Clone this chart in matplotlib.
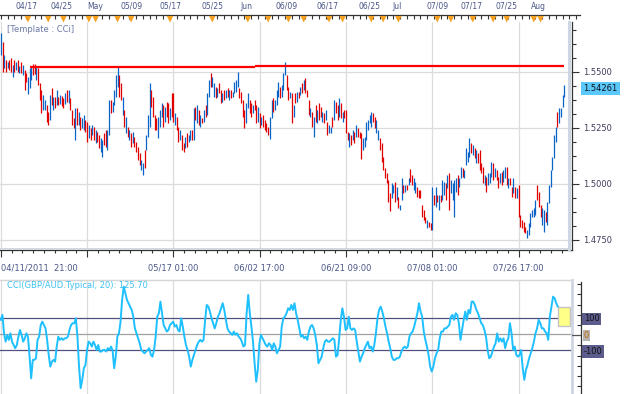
import numpy as np
import matplotlib
matplotlib.use("Agg")
import matplotlib.pyplot as plt
from matplotlib.patches import Rectangle
import matplotlib.transforms as mtransforms
from matplotlib.ticker import MultipleLocator, FixedLocator

# ---------------- data ----------------
highs = [
 1.5674,1.5634,1.5576,1.5554,1.5545,1.5554,1.5563,1.5531,1.5554,1.5545,1.5554,1.5527,1.5545,1.5531,1.5509,1.5496,1.5478,1.5518,1.5527,1.5536,
 1.5536,1.5527,1.5518,1.5451,1.5420,1.5397,1.5375,1.5353,1.5321,1.5397,1.5429,1.5388,1.5388,1.5420,1.5388,1.5397,1.5393,1.5384,1.5406,1.5420,
 1.5420,1.5384,1.5330,1.5295,1.5339,1.5339,1.5321,1.5299,1.5295,1.5308,1.5286,1.5277,1.5263,1.5250,1.5263,
 1.5254,1.5241,1.5232,1.5219,1.5205,1.5196,1.5228,1.5241,1.5241,1.5375,1.5375,1.5366,1.5420,1.5487,1.5522,1.5487,1.5451,1.5388,1.5330,1.5299,
 1.5254,1.5241,1.5228,1.5232,1.5210,1.5187,1.5165,1.5138,1.5107,1.5094,1.5152,1.5219,1.5308,1.5451,1.5420,1.5388,1.5308,1.5295,1.5299,1.5330,
 1.5362,1.5353,1.5344,1.5366,1.5362,1.5339,1.5406,1.5406,1.5317,1.5299,1.5254,1.5241,1.5219,1.5183,1.5210,1.5228,1.5219,1.5241,
 1.5241,1.5339,1.5344,1.5353,1.5330,1.5308,1.5295,1.5330,1.5353,1.5406,1.5464,1.5496,1.5478,1.5451,1.5433,1.5429,1.5451,1.5420,1.5406,1.5420,
 1.5420,1.5429,1.5420,1.5420,1.5411,1.5455,1.5464,1.5500,1.5429,1.5411,1.5375,1.5330,1.5362,1.5406,1.5375,1.5362,1.5353,1.5375,1.5353,1.5344,
 1.5317,1.5299,1.5308,1.5286,1.5272,1.5254,1.5299,1.5375,1.5384,1.5375,1.5420,1.5455,1.5433,1.5442,1.5496,1.5545,
 1.5487,1.5433,1.5411,1.5406,1.5353,1.5406,1.5411,1.5411,1.5433,1.5451,1.5464,1.5473,1.5420,1.5375,1.5339,1.5321,1.5299,1.5353,1.5330,1.5362,
 1.5344,1.5321,1.5317,1.5330,1.5277,1.5263,1.5254,1.5299,1.5375,1.5366,1.5353,1.5384,1.5362,1.5321,1.5330,1.5330,1.5232,1.5228,1.5219,1.5241,
 1.5232,1.5263,1.5250,1.5232,1.5228,1.5205,1.5210,1.5277,1.5286,1.5308,1.5321,1.5317,1.5299,1.5286,1.5241,1.5205,1.5183,
 1.5120,1.5071,1.5049,1.5018,1.4960,1.5004,1.4996,1.5009,1.4987,1.4942,1.4906,1.5027,1.4996,1.4996,1.4996,1.5027,1.5067,1.5040,1.5027,1.5009,
 1.4987,1.4973,1.4973,1.4906,1.4884,1.4853,1.4839,1.4830,1.4826,1.4987,1.4951,1.4987,1.4951,1.4951,1.4951,1.5018,1.5009,1.5004,1.5040,1.5049,
 1.5018,1.5004,1.5018,1.5027,1.5040,1.5027,1.5076,1.5071,1.5062,1.5161,1.5143,1.5205,1.5183,1.5174,1.5161,1.5152,1.5138,
 1.5152,1.5094,1.5076,1.5040,1.5031,1.5049,1.5049,1.5098,1.5094,1.5071,1.5062,1.5031,1.5049,1.5054,1.5062,1.5076,1.5076,1.5027,1.5027,1.4987,
 1.5027,1.4987,1.4982,1.4996,1.4862,1.4839,1.4830,1.4808,1.4795,1.4826,1.4871,1.4884,1.4893,1.4929,1.4996,1.4964,1.4906,1.4893,1.4884,1.4875,
 1.4920,1.4996,1.5062,1.5120,1.5219,1.5254,1.5321,1.5339,1.5339,1.5397,1.5442]
lows = [
 1.5576,1.5500,1.5518,1.5500,1.5518,1.5509,1.5500,1.5478,1.5500,1.5509,1.5500,1.5496,1.5496,1.5487,1.5420,1.5455,1.5402,1.5429,1.5464,1.5487,
 1.5491,1.5464,1.5442,1.5375,1.5317,1.5330,1.5330,1.5277,1.5263,1.5286,1.5353,1.5330,1.5339,1.5353,1.5353,1.5357,1.5348,1.5339,1.5357,1.5366,
 1.5362,1.5330,1.5263,1.5250,1.5196,1.5263,1.5263,1.5241,1.5250,1.5241,1.5232,1.5187,1.5205,1.5196,1.5219,
 1.5196,1.5183,1.5187,1.5161,1.5143,1.5120,1.5174,1.5165,1.5152,1.5219,1.5317,1.5321,1.5353,1.5388,1.5433,1.5388,1.5375,1.5308,1.5254,1.5228,
 1.5210,1.5196,1.5165,1.5183,1.5165,1.5143,1.5107,1.5085,1.5062,1.5040,1.5071,1.5152,1.5210,1.5254,1.5344,1.5299,1.5241,1.5241,1.5205,1.5254,
 1.5299,1.5254,1.5277,1.5299,1.5272,1.5286,1.5299,1.5277,1.5263,1.5241,1.5187,1.5196,1.5152,1.5143,1.5161,1.5165,1.5187,1.5196,
 1.5196,1.5196,1.5286,1.5272,1.5263,1.5254,1.5272,1.5277,1.5299,1.5308,1.5388,1.5433,1.5433,1.5388,1.5384,1.5388,1.5406,1.5362,1.5366,1.5375,
 1.5384,1.5388,1.5375,1.5384,1.5388,1.5406,1.5411,1.5433,1.5384,1.5362,1.5299,1.5250,1.5272,1.5339,1.5317,1.5299,1.5317,1.5330,1.5272,1.5277,
 1.5250,1.5263,1.5254,1.5241,1.5232,1.5219,1.5201,1.5295,1.5321,1.5330,1.5353,1.5388,1.5384,1.5388,1.5420,1.5487,
 1.5420,1.5375,1.5384,1.5272,1.5299,1.5362,1.5366,1.5384,1.5397,1.5406,1.5420,1.5406,1.5388,1.5308,1.5299,1.5254,1.5210,1.5277,1.5272,1.5286,
 1.5299,1.5277,1.5272,1.5286,1.5219,1.5228,1.5228,1.5254,1.5286,1.5317,1.5286,1.5299,1.5295,1.5277,1.5295,1.5228,1.5196,1.5165,1.5174,1.5196,
 1.5183,1.5210,1.5210,1.5205,1.5111,1.5152,1.5165,1.5196,1.5241,1.5272,1.5254,1.5277,1.5250,1.5228,1.5196,1.5152,1.5098,
 1.5062,1.5027,1.5004,1.4920,1.4880,1.4938,1.4960,1.4920,1.4929,1.4893,1.4884,1.4929,1.4960,1.4964,1.4973,1.4996,1.5009,1.4996,1.4973,1.4960,
 1.4942,1.4938,1.4938,1.4853,1.4839,1.4826,1.4804,1.4808,1.4795,1.4795,1.4906,1.4897,1.4920,1.4884,1.4920,1.4929,1.4951,1.4929,1.4982,1.4884,
 1.4960,1.4929,1.4853,1.4964,1.4951,1.4987,1.5027,1.5031,1.5027,1.5085,1.5098,1.5120,1.5138,1.5129,1.5116,1.5094,1.5094,
 1.5062,1.5049,1.5004,1.4996,1.4964,1.4996,1.5004,1.5031,1.5018,1.5031,1.5018,1.4982,1.5004,1.4996,1.5009,1.5027,1.4996,1.4982,1.4996,1.4942,
 1.4960,1.4938,1.4938,1.4853,1.4808,1.4804,1.4786,1.4781,1.4759,1.4772,1.4808,1.4853,1.4853,1.4862,1.4929,1.4897,1.4853,1.4817,1.4786,1.4830,
 1.4817,1.4915,1.4987,1.5062,1.5116,1.5187,1.5254,1.5272,1.5299,1.5344,1.5388]
up = [
 1,0,1,0,1,0,0,1,0,1,0,1,0,1,0,0,1,1,1,0,
 0,1,0,0,0,1,1,0,0,1,0,1,0,1,0,1,0,0,1,0,
 1,0,0,0,1,0,1,0,1,1,0,0,1,0,1,
 0,1,0,0,1,1,0,0,1,1,0,1,1,1,1,0,0,1,0,1,
 0,1,0,1,0,0,0,0,1,1,0,1,1,1,0,0,0,0,1,1,
 1,0,1,0,0,1,0,0,1,0,0,1,0,0,1,0,1,1,
 0,1,0,1,0,1,0,1,0,1,1,0,1,1,0,1,0,0,1,0,
 1,0,1,0,1,1,1,1,0,0,0,0,1,1,0,0,1,0,0,1,
 0,1,0,0,0,0,1,1,0,1,1,1,0,1,1,1,
 0,0,1,0,1,0,1,0,1,0,1,0,0,0,1,0,1,0,1,0,
 0,1,0,1,0,1,1,0,1,0,0,1,0,1,0,0,0,1,0,1,
 0,1,0,0,0,1,1,1,1,1,1,0,0,1,1,0,0,
 0,0,0,0,0,1,1,0,1,0,1,1,0,1,0,1,0,0,1,1,
 0,0,0,0,0,0,1,0,0,1,0,1,0,1,0,1,1,0,1,0,
 1,1,1,1,0,1,1,0,1,1,1,1,0,1,0,1,0,
 0,0,0,1,0,1,1,1,0,1,0,0,1,0,1,1,0,1,0,0,
 1,0,1,0,0,0,0,0,1,1,1,1,1,1,0,0,0,1,1,0,
 1,1,1,1,1,1,0,1,1,1,1]
last_price = 1.54261

# resistance line: bar index where it starts / steps / ends, and its two levels
res_idx = [17, 150, 333]
res_lvl = [1.5524, 1.5528]

cci = [
 90,121,6,-46,-4,-35,6,-46,-67,-87,-67,-15,27,-4,-46,-25,6,-15,-140,-275,
 -160,-160,-150,-35,-15,58,79,58,37,-35,-129,-202,-171,-160,-171,-77,-15,-35,-25,-35,
 -25,-25,-15,27,58,69,69,100,-15,-202,-337,-285,-212,-192,-98,-46,-56,-77,-46,-67,
 -98,-67,-108,-108,-98,-98,-108,-87,-98,-77,-98,-212,-140,-15,6,79,215,298,256,215,
 194,173,152,110,37,6,-25,-56,-98,-108,-119,-108,-98,-87,-129,-140,-98,-15,110,131,
 204,131,58,37,17,27,58,69,79,48,58,27,17,100,48,-15,-67,-98,-140,-202,
 -160,-129,-98,-67,-46,-35,-46,-35,90,183,173,142,100,69,37,69,110,131,162,194,
 152,90,37,17,6,-4,17,-4,6,-15,-25,-46,-77,-67,131,246,131,48,-46,-181,
 -296,-223,-56,-4,-25,-46,-67,-77,-56,-67,-98,-56,-77,-119,-98,-77,48,100,110,131,
 162,152,183,152,194,131,90,37,-15,-4,-25,-15,-35,17,48,58,37,-4,-67,-181,
 -160,-140,-87,
 -46,-35,-46,-46,-35,-25,-35,-140,-129,-25,90,162,110,27,37,110,37,27,37,27,
 -46,-108,-171,-140,-119,-87,-67,-46,-87,-77,-108,-67,6,100,152,173,142,100,48,6,
 -46,-87,-140,-160,-160,-150,-150,-140,-108,-87,-77,-87,-77,-15,6,17,48,90,131,194,
 142,110,17,-35,-77,-129,-202,-233,-202,-150,-119,-98,-25,17,17,37,37,48,58,110,
 121,90,131,121,69,-35,27,90,142,90,152,131,204,204,183,152,131,100,69,58,
 27,-15,-98,-150,-140,-108,-77,-56,6,-46,-25,-46,-25,-87,-46,-25,69,6,-98,-77,
 -129,-140,-129,-98,-212,-285,-223,-192,-150,-119,-87,-46,6,37,90,69,37,37,17,6,
 -35,110,173,235,225,194,173,162,131,131,125.7]

time_tick_idx = [0, 51, 102, 153, 204, 255, 306]
time_tick_labels = ['04/11/2011  21:00', '05/17 01:00', '06/02 17:00', '06/21 09:00',
                    '07/08 01:00', '07/26 17:00']
top_tick_idx = [15, 36, 56, 77, 100, 125, 145, 169, 193, 218, 234, 258, 278, 299, 318]
top_tick_labels = ['04/17', '04/25', 'May', '05/09', '05/17', '05/25', 'Jun', '06/09',
                   '06/17', '06/25', 'Jul', '07/09', '07/17', '07/25', 'Aug']
top_marker_idx = [16, 28, 37, 52, 56, 69, 77, 100, 125, 146, 158, 170, 179, 194, 202,
                  219, 226, 235, 258, 266, 279, 291, 299, 315, 319]
price_levels = [1.475, 1.500, 1.525, 1.550]
cci_levels = [-100, 0, 100]

# ---------------- figure ----------------
W, H, DPI = 624, 394, 100
fig = plt.figure(figsize=(W / DPI, H / DPI), dpi=DPI)
fig.patch.set_facecolor('white')

def px_axes(x0, y0, x1, y1):
    return fig.add_axes([x0 / W, 1 - y1 / H, (x1 - x0) / W, (y1 - y0) / H])

BLUE = '#0a64c8'
RED = '#e00000'
GRID = '#dcdcdc'
LBL = '#4a5688'
XL = (-0.5, 337.6)           # for a 572 px wide panel
per_px = (XL[1] - XL[0]) / 572.0

# ---- price panel ----
ax = px_axes(0, 22, 572, 250)
ax.set_xlim(*XL)
ax.set_ylim(1.4705, 1.5723)
for lv in price_levels:
    ax.axhline(lv, color=GRID, lw=0.9, zorder=0)
for t in time_tick_idx:
    ax.axvline(t, color=GRID, lw=0.9, zorder=0)

x = np.arange(len(highs))
cols = [BLUE if u else RED for u in up]
ax.vlines(x, lows, highs, colors=cols, linewidth=0.9, zorder=3)

ax.hlines(res_lvl[0], res_idx[0], res_idx[1], color='#ff0000', lw=1.6, zorder=4)
ax.hlines(res_lvl[1], res_idx[1], res_idx[2], color='#ff0000', lw=1.6, zorder=4)

for s in ['left', 'top']:
    ax.spines[s].set_visible(False)
ax.spines['right'].set_color('#333333')
ax.spines['right'].set_linewidth(0.9)
ax.spines['bottom'].set_color('#333333')
ax.spines['bottom'].set_linewidth(0.9)
ax.plot([0.9955, 0.9955], [0, 1], transform=ax.transAxes, color='#cfd6e2', lw=2.2, clip_on=False, zorder=5)
ax.plot([0, 0.995], [0.006, 0.006], transform=ax.transAxes, color='#d2d6de', lw=1.4, clip_on=False, zorder=5)

ax.yaxis.tick_right()
ax.yaxis.set_major_locator(FixedLocator(price_levels))
ax.yaxis.set_minor_locator(MultipleLocator(0.00625))
ax.yaxis.set_major_formatter(matplotlib.ticker.FormatStrFormatter('%.4f'))
ax.tick_params(axis='y', which='major', direction='out', length=5, width=0.8, color='#333333',
               labelsize=6, labelcolor='#3c3c5c', pad=3)
ax.tick_params(axis='y', which='minor', direction='out', length=3, width=0.8, color='#333333')

ax.set_xticks(time_tick_idx)
ax.set_xticklabels(time_tick_labels[:1] + [''] + time_tick_labels[1:])
ax.xaxis.set_minor_locator(MultipleLocator(51 / 8))
ax.tick_params(axis='x', which='major', direction='out', length=5, width=0.8, color='#333333',
               labelsize=6, labelcolor=LBL, pad=5)
ax.tick_params(axis='x', which='minor', direction='out', length=2.2, width=0.8, color='#333333')
lbls = ax.get_xticklabels()
lbls[0].set_ha('left')

trans = mtransforms.blended_transform_factory(ax.transAxes, ax.transData)
ax.text(1.02, last_price, '%.5f' % last_price, transform=trans, va='center', ha='left',
        fontsize=6, color='#101020', bbox=dict(fc='#5ac8f8', ec='none', pad=1.5), zorder=6)

fig.text(7 / W, 1 - 29 / H, '[Template : CCi]', fontsize=6, color='#6a78a6', va='center', ha='left')

# ---- top date strip ----
axt = px_axes(0, 15, 580, 22)
axt.set_xlim(XL[0], XL[0] + 580 * per_px)
axt.set_ylim(0, 1)
for s in ['left', 'right', 'bottom']:
    axt.spines[s].set_visible(False)
axt.spines['top'].set_color('#333333')
axt.spines['top'].set_linewidth(0.9)
axt.set_yticks([])
axt.xaxis.tick_top()
axt.set_xticks(top_tick_idx)
axt.set_xticklabels(top_tick_labels)
axt.xaxis.set_minor_locator(MultipleLocator(4))
axt.tick_params(axis='x', which='both', direction='in', length=3, width=0.8, color='#333333',
                labelsize=5.5, labelcolor=LBL, pad=3, top=True, bottom=False)
axt.scatter(top_marker_idx, [0.4] * len(top_marker_idx), marker='v', s=22,
            color='#f5a020', edgecolors='none', zorder=5, clip_on=False)
axt.patch.set_alpha(0)

# ---- CCI panel ----
axc = px_axes(0, 280, 572, 394)
axc.set_xlim(*XL)
axc.set_ylim(-373, 339)
for t in time_tick_idx:
    axc.axvline(t, color=GRID, lw=0.9, zorder=0)
axc.axhline(0, color='#a0a0a0', lw=0.9, zorder=1)
axc.axhline(100, color='#505080', lw=0.9, zorder=1)
axc.axhline(-100, color='#505080', lw=0.9, zorder=1)
cci_x = np.linspace(0, len(highs) - 1, len(cci))
axc.plot(cci_x, cci, color='#1ec0ff', lw=1.4, zorder=3)
for s in ['left', 'bottom']:
    axc.spines[s].set_visible(False)
axc.spines['top'].set_color('#d6d6d6')
axc.spines['top'].set_linewidth(1.0)
axc.spines['right'].set_color('#cfd6e2')
axc.spines['right'].set_linewidth(2.0)
axc.set_xticks([])
axc.set_yticks([])
axc.add_patch(Rectangle((0.9755, 0.596), 0.021, 0.167, transform=axc.transAxes,
                        fc='#ffff88', ec='#c4c4c4', lw=1.0, zorder=6, clip_on=False))
fig.text(7 / W, 1 - 286 / H, 'CCI(GBP/AUD.Typical, 20): %.2f' % cci[-1], fontsize=6,
         color='#3cc0f0', va='center', ha='left')

# ---- CCI right scale ----
axs = px_axes(572, 282, 581, 394)
axs.set_ylim(-373 + 2 * 6.25, 339 - 2 * 6.25)
axs.set_xlim(0, 1)
axs.patch.set_alpha(0)
for s in ['left', 'top', 'bottom']:
    axs.spines[s].set_visible(False)
axs.spines['right'].set_color('#333333')
axs.spines['right'].set_linewidth(0.9)
axs.set_xticks([])
axs.yaxis.tick_right()
axs.set_yticks([v for v in np.arange(-312.5, 330, 62.5) if v != 0])
axs.set_yticklabels([])
axs.tick_params(axis='y', direction='in', length=3, width=0.8, color='#333333')
axs.axhline(0, color='#555555', lw=0.9)
t2 = mtransforms.blended_transform_factory(axs.transAxes, axs.transData)
axs.text(1.3, 100, '100', transform=t2, va='center', ha='left', fontsize=6, color='#111111',
         bbox=dict(fc='#5c5c8c', ec='none', pad=1.2))
axs.text(1.3, 0, '0', transform=t2, va='center', ha='left', fontsize=6, color='#c86400',
         bbox=dict(fc='#b4b4b4', ec='none', pad=0.8))
axs.text(1.3, -100, '-100', transform=t2, va='center', ha='left', fontsize=6, color='#111111',
         bbox=dict(fc='#5c5c8c', ec='none', pad=1.2))

fig.savefig('out.png', dpi=DPI, facecolor='white')
